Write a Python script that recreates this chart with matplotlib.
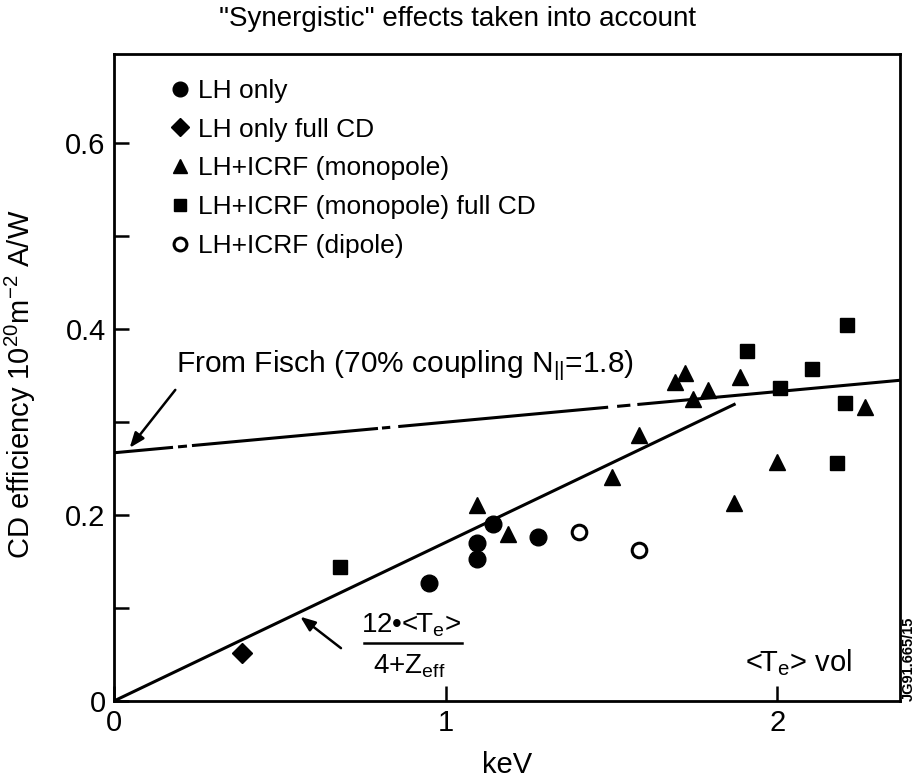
import matplotlib
matplotlib.use("Agg")
import matplotlib.pyplot as plt
import numpy as np

plt.rcParams['font.family'] = ['Liberation Sans', 'DejaVu Sans']
plt.rcParams['mathtext.fontset'] = 'custom'
plt.rcParams['mathtext.rm'] = 'Liberation Sans'
plt.rcParams['mathtext.it'] = 'Liberation Sans:italic'
plt.rcParams['mathtext.default'] = 'regular'

# ---- data (keV, CD efficiency 1e20 m^-2 A/W) ----
lh_only_x = [0.95, 1.095, 1.095, 1.143, 1.279]
lh_only_y = [0.127, 0.170, 0.153, 0.190, 0.176]

lh_full_x = [0.386]
lh_full_y = [0.052]

mono_x = [1.722, 1.692, 1.792, 1.747, 1.888, 2.265, 1.584, 1.502, 2.000, 1.870, 1.095, 1.189]
mono_y = [0.353, 0.343, 0.334, 0.325, 0.349, 0.316, 0.286, 0.241, 0.257, 0.213, 0.211, 0.180]

mono_full_x = [0.682, 1.909, 2.106, 2.009, 2.211, 2.205, 2.181]
mono_full_y = [0.144, 0.376, 0.357, 0.337, 0.404, 0.321, 0.256]

dipole_x = [1.403, 1.584]
dipole_y = [0.182, 0.162]

# Fisch line: intercept and value at right edge
fisch_x = [0.0, 2.37]
fisch_y = [0.267, 0.345]
# solid / dashed pieces of the Fisch line (x ranges)
fisch_pieces = [(0.0, 0.178), (0.193, 0.220), (0.235, 0.796), (0.808, 0.833),
                (0.857, 1.490), (1.517, 1.557), (1.578, 2.37)]

# scaling law 12<Te>/(4+Zeff)
scale_x = [0.0, 1.87]
scale_y = [0.0, 0.319]

xticks = [0, 1, 2]
xticklabels = ['0', '1', '2']
yticks = [0, 0.1, 0.2, 0.3, 0.4, 0.5, 0.6]
yticklabels = ['0', '', '0.2', '', '0.4', '', '0.6']

fig = plt.figure(figsize=(9.15, 7.78), dpi=100)
ax = fig.add_axes([0.1246, 0.0990, 0.8590, 0.8316])

ax.set_xlim(0, 2.37)
ax.set_ylim(0, 0.696)

# Fisch line
fx = np.array(fisch_x); fy = np.array(fisch_y)
for a, b in fisch_pieces:
    ya = np.interp(a, fx, fy); yb = np.interp(b, fx, fy)
    ax.plot([a, b], [ya, yb], color='black', lw=2.2, solid_capstyle='butt')

ax.plot(scale_x, scale_y, color='black', lw=2.2)

ax.plot(lh_only_x, lh_only_y, 'o', color='black', ms=12, ls='none', label='LH only')
ax.plot(lh_full_x, lh_full_y, 'D', color='black', ms=10, ls='none', label='LH only full CD')
ax.plot(mono_x, mono_y, '^', color='black', ms=12, ls='none', label='LH+ICRF (monopole)')
ax.plot(mono_full_x, mono_full_y, 's', color='black', ms=10.5, ls='none', label='LH+ICRF (monopole) full CD')
ax.plot(dipole_x, dipole_y, 'o', mfc='white', mec='black', mew=2.2, ms=10.5, ls='none', label='LH+ICRF (dipole)')

leg = ax.legend(loc='upper left', bbox_to_anchor=(0.06, 0.978), frameon=False,
                fontsize=19, handlelength=0.6, handletextpad=0.4, labelspacing=0.56,
                borderaxespad=0, markerscale=0.88)

ax.set_xticks(xticks)
ax.set_xticklabels(xticklabels)
ax.set_yticks(yticks)
ax.set_yticklabels(yticklabels)
ax.tick_params(direction='in', length=11, width=1.8, labelsize=21, pad=6)
for s in ax.spines.values():
    s.set_linewidth(2)

ax.set_xlabel('keV', fontsize=21)
ax.xaxis.set_label_coords(0.5, -0.078)
ax.set_ylabel(r'CD efficiency 10$^{20}$m$^{-2}$ A/W', fontsize=21)
ax.yaxis.set_label_coords(-0.097, 0.49)

fig.text(0.5, 0.976, '"Synergistic" effects taken into account', ha='center', va='center', fontsize=20)

ax.text(0.187, 0.361, r'From Fisch (70% coupling N$_{||}$=1.8)', fontsize=21.5, ha='left', va='center')
ax.annotate('', xy=(0.042, 0.270), xytext=(0.19, 0.337),
            arrowprops=dict(arrowstyle='-|>,head_length=0.9,head_width=0.35', color='black', lw=1.8))

ax.text(0.896, 0.082, r'12•<T$_e$>', fontsize=20, ha='center', va='center')
ax.plot([0.754, 1.050], [0.062, 0.062], color='black', lw=1.8)
ax.text(0.89, 0.037, r'4+Z$_{eff}$', fontsize=20, ha='center', va='center')
ax.annotate('', xy=(0.555, 0.0925), xytext=(0.691, 0.055),
            arrowprops=dict(arrowstyle='-|>,head_length=0.9,head_width=0.35', color='black', lw=1.8))

ax.text(1.903, 0.041, r'<T$_e$> vol', fontsize=21, ha='left', va='center')

fig.text(0.993, 0.153, 'JG91.665/15', rotation=90, fontsize=10.5, fontweight='bold',
         ha='center', va='center')

fig.savefig('out.png', dpi=100)
